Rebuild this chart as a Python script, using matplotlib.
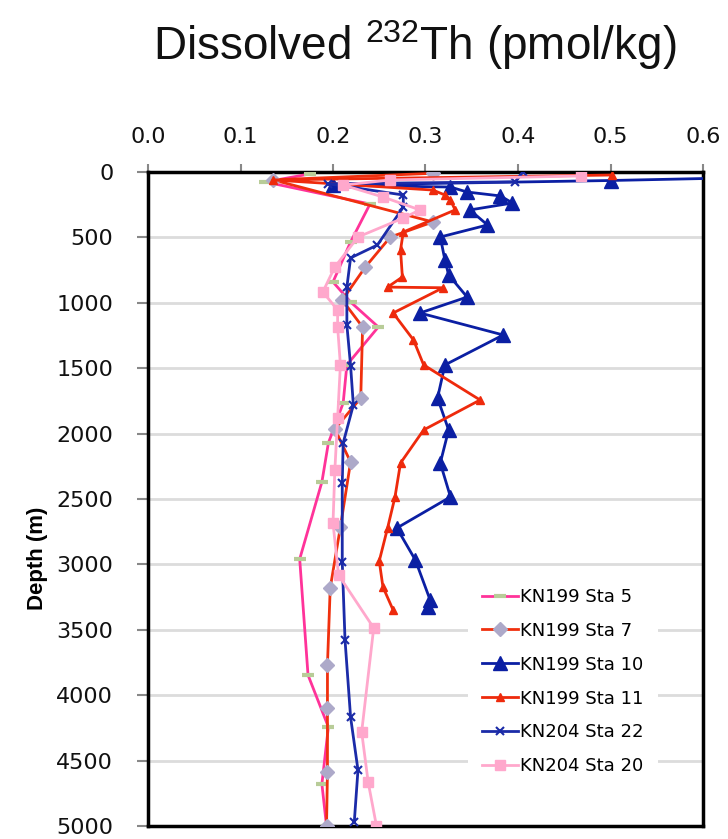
import matplotlib
matplotlib.use("Agg")
import matplotlib.pyplot as plt

plt.rcParams['font.family'] = ['DejaVu Sans']
plt.rcParams['mathtext.default'] = 'regular'

# ---- data (pmol/kg vs depth m) ----
sta5_v = [0.175, 0.127, 0.240, 0.219, 0.200, 0.219, 0.249, 0.215, 0.211, 0.195, 0.188, 0.164, 0.173, 0.195, 0.188, 0.193]
sta5_d = [15, 76, 245, 535, 841, 994, 1185, 1475, 1766, 2072, 2370, 2959, 3846, 4243, 4679, 5000]

sta7_v = [0.308, 0.135, 0.308, 0.262, 0.235, 0.210, 0.232, 0.230, 0.202, 0.219, 0.208, 0.197, 0.194, 0.194, 0.194, 0.193]
sta7_d = [10, 60, 382, 497, 726, 979, 1185, 1728, 1965, 2217, 2714, 3180, 3769, 4098, 4587, 5000]

sta10_v = [0.80, 0.50, 0.20, 0.327, 0.345, 0.381, 0.394, 0.348, 0.367, 0.316, 0.321, 0.325, 0.345, 0.294,
           0.384, 0.321, 0.313, 0.325, 0.316, 0.327, 0.269, 0.289, 0.305, 0.303]
sta10_d = [20, 65, 100, 115, 153, 183, 237, 290, 405, 497, 673, 787, 956, 1078,
           1246, 1475, 1728, 1972, 2225, 2484, 2722, 2966, 3272, 3326]

sta11_v = [0.502, 0.135, 0.308, 0.321, 0.327, 0.332, 0.276, 0.273, 0.275, 0.259, 0.319, 0.265, 0.287,
           0.298, 0.359, 0.298, 0.273, 0.267, 0.259, 0.250, 0.254, 0.265]
sta11_d = [23, 61, 138, 176, 214, 290, 459, 596, 803, 880, 885, 1078, 1284,
           1475, 1743, 1972, 2225, 2485, 2722, 2974, 3173, 3349]

sta22_v = [0.405, 0.397, 0.195, 0.276, 0.276, 0.248, 0.219, 0.215, 0.215, 0.219, 0.222, 0.211, 0.210,
           0.210, 0.213, 0.219, 0.227, 0.223]
sta22_d = [2, 75, 90, 176, 268, 558, 657, 880, 1170, 1480, 1781, 2072, 2378,
           2982, 3578, 4167, 4572, 4970]

sta20_v = [0.468, 0.262, 0.211, 0.254, 0.294, 0.276, 0.227, 0.202, 0.189, 0.205, 0.205, 0.208, 0.205,
           0.202, 0.200, 0.206, 0.244, 0.231, 0.238, 0.247]
sta20_d = [30, 61, 100, 191, 290, 352, 497, 726, 917, 1055, 1185, 1475, 1880,
           2278, 2684, 3081, 3486, 4281, 4664, 5000]

labels = ['KN199 Sta 5', 'KN199 Sta 7', 'KN199 Sta 10', 'KN199 Sta 11', 'KN204 Sta 22', 'KN204 Sta 20']
xticks = [0.0, 0.1, 0.2, 0.3, 0.4, 0.5, 0.6]
yticks = list(range(0, 5001, 500))

fig = plt.figure(figsize=(7.28, 8.39), dpi=100)
ax = fig.add_axes([148/728, 1-826/839, (703-148)/728, (826-172)/839])

lw = 2.0
ax.plot(sta5_v, sta5_d, color='#FF3399', lw=lw, marker='_', ms=9, mew=3,
        mec='#B8CC98', mfc='#B8CC98', label=labels[0], zorder=3)
ax.plot(sta7_v, sta7_d, color='#F0300E', lw=lw, marker='D', ms=7.5,
        mec='#ADA9C9', mfc='#ADA9C9', label=labels[1], zorder=3)
ax.plot(sta10_v, sta10_d, color='#0B1FA3', lw=lw, marker='^', ms=9.5,
        mec='#0B1FA3', mfc='#0B1FA3', label=labels[2], zorder=3)
ax.plot(sta11_v, sta11_d, color='#EE2A0C', lw=lw, marker='^', ms=6,
        mec='#EE2A0C', mfc='#EE2A0C', label=labels[3], zorder=3)
ax.plot(sta22_v, sta22_d, color='#1B2BA8', lw=lw, marker='x', ms=6, mew=1.5,
        mec='#1B2BA8', label=labels[4], zorder=3)
ax.plot(sta20_v, sta20_d, color='#FFA8CC', lw=lw, marker='s', ms=7,
        mec='#FFA8CC', mfc='#FFA8CC', label=labels[5], zorder=3)

ax.set_xlim(0, 0.6)
ax.set_ylim(5000, 0)
ax.xaxis.tick_top()
ax.set_xticks(xticks)
ax.set_xticklabels([f'{t:.1f}' for t in xticks])
ax.set_yticks(yticks)
ax.set_yticklabels([str(t) for t in yticks])
ax.tick_params(axis='x', which='both', top=True, bottom=False, length=6, width=1.5,
               color='#888888', labelsize=16, pad=12, labelcolor='#111111')
ax.tick_params(axis='y', which='both', left=True, length=8, width=1.5,
               color='#888888', labelsize=16, pad=17, labelcolor='#111111')
ax.yaxis.grid(True, color='#DCDCDC', lw=2)
ax.set_axisbelow(True)
for s in ax.spines.values():
    s.set_linewidth(2.5)
    s.set_color('black')

ax.set_ylabel('Depth (m)', fontsize=16, fontweight='bold', family=['Liberation Sans', 'DejaVu Sans'])
ax.yaxis.set_label_coords(-0.18, 0.41)

leg = ax.legend(loc='upper left', bbox_to_anchor=(0.56, 0.40), frameon=True, fontsize=13,
                handlelength=2.0, handletextpad=0.1, labelspacing=0.88, borderpad=0.8,
                edgecolor='white', facecolor='white', framealpha=1.0)
leg.get_frame().set_linewidth(0)

fig.text(415/728, 1-45/839, r'Dissolved $^{232}$Th (pmol/kg)', ha='center', va='center',
         fontsize=33, color='#111111', family=['Liberation Sans', 'DejaVu Sans'])

fig.savefig('out.png', dpi=100)
